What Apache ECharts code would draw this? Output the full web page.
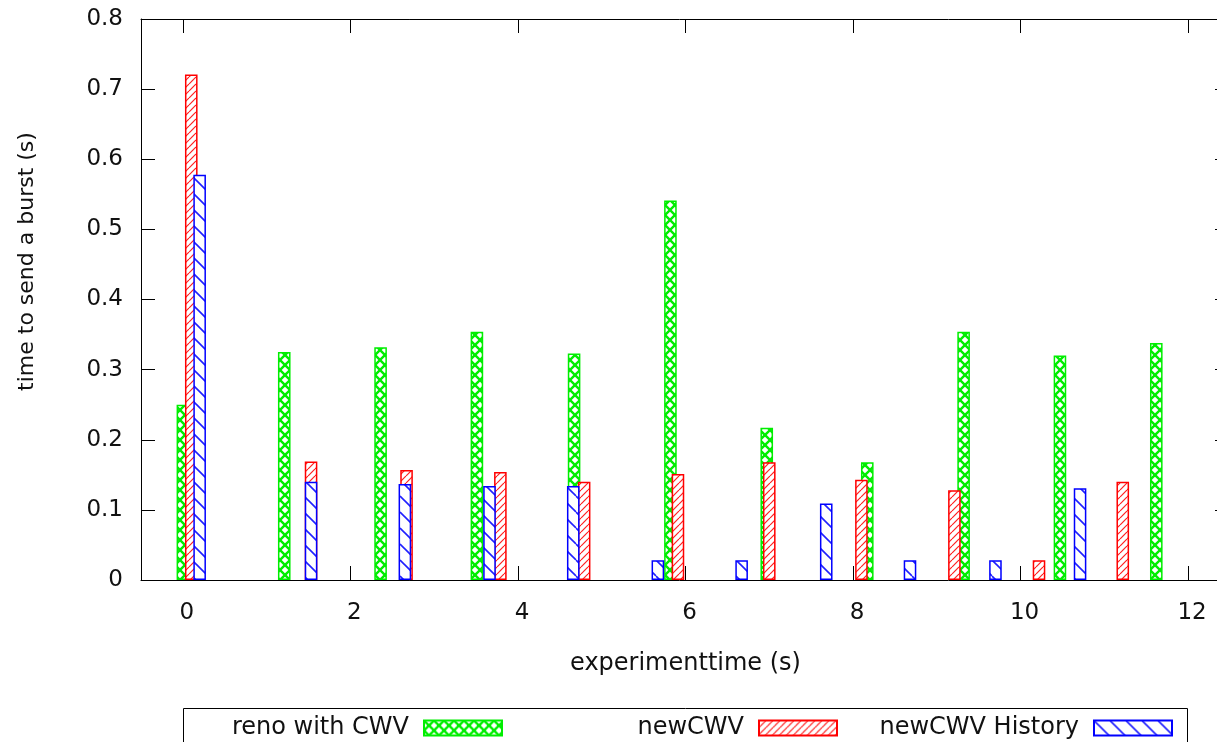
<!DOCTYPE html>
<html>
<head>
<meta charset="utf-8">
<script src="https://cdn.jsdelivr.net/npm/echarts@6/dist/echarts.min.js"></script>
<style>
html,body{margin:0;padding:0;background:#fff;}
#chart{width:1217px;height:742px;}
</style>
</head>
<body>
<div id="chart"></div>
<script>
// ---- data ----
const seriesNames = ['reno with CWV', 'newCWV', 'newCWV History'];
const renoX = [0.00, 1.21, 2.36, 3.51, 4.67, 5.82, 6.97, 8.17, 9.32, 10.47, 11.62];
const renoY = [0.250, 0.325, 0.332, 0.354, 0.323, 0.541, 0.217, 0.168, 0.354, 0.320, 0.338];
const newX = [0.10, 1.53, 2.67, 3.79, 4.79, 5.91, 7.00, 8.10, 9.21, 10.22, 11.22];
const newY = [0.721, 0.169, 0.157, 0.154, 0.140, 0.151, 0.168, 0.143, 0.128, 0.028, 0.140];
const histX = [0.20, 1.53, 2.65, 3.66, 4.66, 5.67, 6.67, 7.68, 8.68, 9.70, 10.71];
const histY = [0.578, 0.140, 0.137, 0.134, 0.134, 0.028, 0.028, 0.109, 0.028, 0.028, 0.131];
const xTicks = [0, 2, 4, 6, 8, 10, 12];
const yTicks = [0, 0.1, 0.2, 0.3, 0.4, 0.5, 0.6, 0.7, 0.8];
const xTitle = 'experimenttime (s)';
const yTitle = 'time to send a burst (s)';

// ---- pattern tiles ----
function makeTile(size, color, lw, dirs) {
  const c = document.createElement('canvas');
  c.width = size; c.height = size;
  const g = c.getContext('2d');
  g.fillStyle = '#fff';
  g.fillRect(0, 0, size, size);
  g.strokeStyle = color;
  g.lineWidth = lw;
  for (const d of dirs) {
    for (let k = -1; k <= 1; k++) {
      g.beginPath();
      if (d === '/') { g.moveTo(k * size, size); g.lineTo(k * size + size, 0); }
      else { g.moveTo(k * size, 0); g.lineTo(k * size + size, size); }
      g.stroke();
    }
  }
  return c;
}
const greenTile = makeTile(10, '#00ee00', 2.4, ['/', '\\']);
const redTile = makeTile(7, '#ff2020', 1.2, ['/']);
const blueTile = makeTile(16, '#2020ff', 1.6, ['\\']);

function pairs(xs, ys) { return xs.map((x, i) => [x, ys[i]]); }

const FONT = 'DejaVu Sans';
const TXT = '#111';

const chart = echarts.init(document.getElementById('chart'));

const barCommon = {
  type: 'bar',
  barWidth: 12.6,
  barGap: '-100%',
  animation: false
};

const legendCommon = {
  orient: 'horizontal',
  align: 'right',
  icon: 'rect',
  itemWidth: 78,
  itemHeight: 15,
  padding: 0,
  top: 716,
  selectedMode: false,
  textStyle: { fontFamily: FONT, fontSize: 24, color: TXT, padding: [0, 10, 0, 0] }
};

chart.setOption({
  backgroundColor: '#fff',
  animation: false,
  grid: { left: 141, top: 19, width: 1089, height: 561, containLabel: false, outerBoundsMode: 'none' },
  xAxis: [
    {
      type: 'value', min: -0.5, max: 12.5, position: 'bottom',
      name: xTitle, nameLocation: 'middle', nameGap: 72,
      nameTextStyle: { fontFamily: FONT, fontSize: 24, color: TXT },
      axisLine: { show: true, lineStyle: { color: '#000', width: 1 } },
      axisTick: { show: true, inside: true, length: 14, customValues: xTicks, lineStyle: { color: '#000', width: 1 } },
      axisLabel: { customValues: xTicks, margin: 22, fontFamily: FONT, fontSize: 23, color: TXT, padding: [0, 0, 0, 8] },
      splitLine: { show: false }
    },
    {
      type: 'value', min: -0.5, max: 12.5, position: 'top',
      axisLine: { show: true, onZero: false, lineStyle: { color: '#000', width: 1 } },
      axisTick: { show: true, inside: true, length: 14, customValues: xTicks, lineStyle: { color: '#000', width: 1 } },
      axisLabel: { show: false },
      splitLine: { show: false }
    }
  ],
  yAxis: [
    {
      type: 'value', min: 0, max: 0.8, position: 'left',
      name: yTitle, nameLocation: 'middle', nameGap: 103,
      nameTextStyle: { fontFamily: FONT, fontSize: 22, color: TXT, padding: [0, 0, 0, 76] },
      axisLine: { show: true, onZero: false, lineStyle: { color: '#000', width: 1 } },
      axisTick: { show: true, inside: true, length: 14, customValues: yTicks, lineStyle: { color: '#000', width: 1 } },
      axisLabel: {
        customValues: yTicks, margin: 18, fontFamily: FONT, fontSize: 23, color: TXT,
        formatter: v => (v === 0 ? '0' : v.toFixed(1))
      },
      splitLine: { show: false }
    },
    {
      type: 'value', min: 0, max: 0.8, position: 'right',
      axisLine: { show: true, onZero: false, lineStyle: { color: '#000', width: 1 } },
      axisTick: { show: true, inside: true, length: 15, customValues: yTicks, lineStyle: { color: '#000', width: 1 } },
      axisLabel: { show: false },
      splitLine: { show: false }
    }
  ],
  legend: [
    Object.assign({}, legendCommon, { data: [seriesNames[0]], right: 714 }),
    Object.assign({}, legendCommon, { data: [seriesNames[1]], right: 379 }),
    Object.assign({}, legendCommon, { data: [seriesNames[2]], right: 44 })
  ],
  graphic: [
    {
      type: 'rect', silent: true,
      shape: { x: 183.5, y: 708.5, width: 1004, height: 60 },
      style: { fill: 'none', stroke: '#000', lineWidth: 1 }
    }
  ],
  series: [
    Object.assign({}, barCommon, {
      name: seriesNames[0], data: pairs(renoX, renoY),
      itemStyle: { color: { image: greenTile, repeat: 'repeat' }, borderColor: '#00ee00', borderWidth: 1.5 }
    }),
    Object.assign({}, barCommon, {
      name: seriesNames[1], data: pairs(newX, newY),
      itemStyle: { color: { image: redTile, repeat: 'repeat' }, borderColor: '#ff0000', borderWidth: 1.5 }
    }),
    Object.assign({}, barCommon, {
      name: seriesNames[2], data: pairs(histX, histY),
      itemStyle: { color: { image: blueTile, repeat: 'repeat' }, borderColor: '#0000ff', borderWidth: 1.5 }
    })
  ]
});
</script>
</body>
</html>
